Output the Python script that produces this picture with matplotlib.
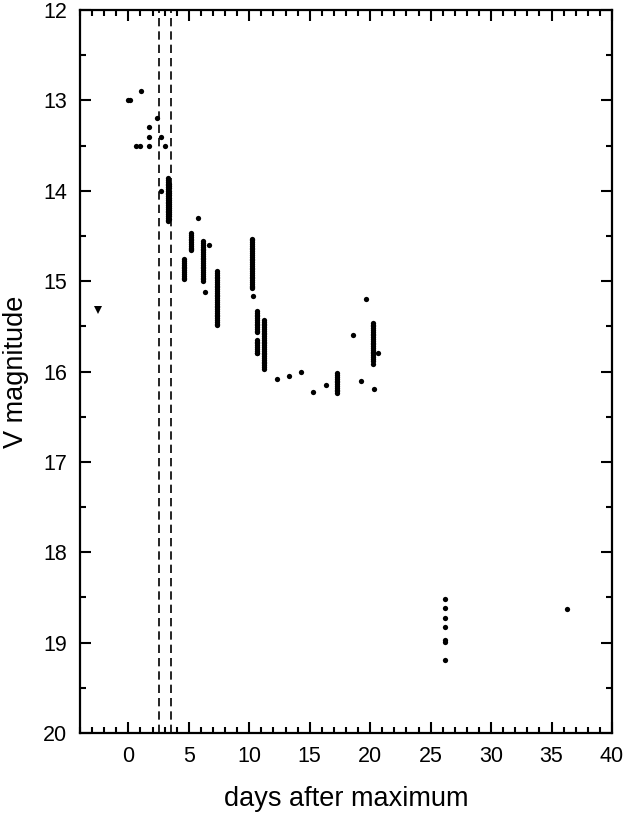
import numpy as np
import matplotlib
matplotlib.use("Agg")
import matplotlib.pyplot as plt
from matplotlib.ticker import MultipleLocator

plt.rcParams['font.family'] = ['Liberation Sans Narrow', 'Liberation Sans', 'DejaVu Sans']

# single observations (days after maximum, V magnitude)
single_days = [0.0, 0.1, 1.07, 2.4, 1.68, 1.73, 2.72, 0.65, 0.93, 1.67, 3.0,
               2.66, 5.75, 6.7, 6.3, 10.27, 12.33, 13.27, 14.3, 15.28, 16.33,
               18.6, 19.64, 19.28, 20.65, 20.27, 20.3, 36.27]
single_mags = [13.0, 13.0, 12.9, 13.19, 13.3, 13.4, 13.4, 13.5, 13.5, 13.5, 13.5,
               14.0, 14.3, 14.6, 15.12, 15.16, 16.08, 16.05, 16.01, 16.23, 16.15,
               15.6, 15.2, 16.11, 15.8, 15.92, 16.19, 18.63]

# dense nightly runs: one day value per run, magnitudes listed
run_days = [3.28, 3.38, 4.6, 5.2, 6.2, 7.3, 10.22, 10.65, 10.65, 11.25, 17.22, 20.25, 26.2]
run_mags = [
    [13.86, 13.88, 13.90, 13.92, 13.94, 13.96, 13.98, 14.00, 14.02, 14.04, 14.06,
     14.08, 14.10, 14.12, 14.14, 14.16, 14.18, 14.20, 14.22, 14.24, 14.26, 14.28,
     14.30, 14.32, 14.34],
    [13.92, 13.95, 13.97, 14.00, 14.03, 14.05, 14.08, 14.10, 14.12, 14.15, 14.17,
     14.19, 14.21, 14.24, 14.26, 14.28, 14.31],
    [14.76, 14.78, 14.80, 14.82, 14.84, 14.86, 14.88, 14.90, 14.92, 14.94, 14.96, 14.98],
    [14.47, 14.49, 14.51, 14.53, 14.55, 14.57, 14.59, 14.61, 14.63, 14.65, 14.66],
    [14.56, 14.58, 14.60, 14.62, 14.64, 14.66, 14.68, 14.70, 14.72, 14.74, 14.76,
     14.78, 14.80, 14.82, 14.84, 14.86, 14.88, 14.90, 14.92, 14.94, 14.96, 14.98, 15.00],
    [14.89, 14.91, 14.93, 14.95, 14.97, 14.99, 15.01, 15.03, 15.05, 15.07, 15.09,
     15.11, 15.13, 15.15, 15.17, 15.19, 15.21, 15.23, 15.25, 15.27, 15.29, 15.31,
     15.33, 15.35, 15.37, 15.39, 15.41, 15.43, 15.45, 15.47, 15.48],
    [14.53, 14.55, 14.57, 14.59, 14.61, 14.63, 14.65, 14.67, 14.69, 14.71, 14.73,
     14.75, 14.77, 14.79, 14.81, 14.83, 14.85, 14.87, 14.89, 14.91, 14.93, 14.95,
     14.97, 14.99, 15.01, 15.03, 15.05, 15.07, 15.08],
    [15.33, 15.35, 15.37, 15.39, 15.41, 15.43, 15.45, 15.47, 15.49, 15.51, 15.53,
     15.55, 15.56],
    [15.65, 15.67, 15.69, 15.71, 15.73, 15.75, 15.77, 15.79, 15.80],
    [15.43, 15.45, 15.47, 15.49, 15.51, 15.53, 15.55, 15.57, 15.59, 15.61, 15.63,
     15.65, 15.67, 15.69, 15.71, 15.73, 15.75, 15.77, 15.79, 15.81, 15.83, 15.85,
     15.87, 15.89, 15.91, 15.93, 15.95, 15.97],
    [16.02, 16.04, 16.06, 16.08, 16.10, 16.12, 16.14, 16.16, 16.18, 16.20, 16.22, 16.24],
    [15.46, 15.48, 15.50, 15.52, 15.54, 15.56, 15.58, 15.60, 15.62, 15.64, 15.66,
     15.68, 15.70, 15.72, 15.74, 15.76, 15.78, 15.80, 15.82, 15.84, 15.86, 15.88],
    [18.52, 18.62, 18.73, 18.83, 18.97, 18.99, 19.19],
]

# upper limit
limit_day = -2.5
limit_mag = 15.32

# dashed markers
vlines = [2.5, 3.5]

fig = plt.figure(figsize=(6.23, 8.13), dpi=100)
ax = fig.add_axes([80/623, 1-733/813, 532/623, 723/813])

ax.plot(single_days, single_mags, 'o', color='black', markersize=3.8, markeredgewidth=0)
for d, ms in zip(run_days, run_mags):
    ax.plot([d]*len(ms), ms, 'o', color='black', markersize=3.8, markeredgewidth=0)
ax.plot([limit_day], [limit_mag], 'v', color='black', markersize=5.5, markeredgewidth=0)

for v in vlines:
    ax.axvline(v, color='black', linestyle=(0, (5, 3)), linewidth=1.2)

ax.set_xlim(-4, 40)
ax.set_ylim(20, 12)
ax.xaxis.set_major_locator(MultipleLocator(5))
ax.xaxis.set_minor_locator(MultipleLocator(1))
ax.yaxis.set_major_locator(MultipleLocator(1))
ax.yaxis.set_minor_locator(MultipleLocator(0.5))
ax.tick_params(which='both', direction='in', top=True, right=True, width=1.5)
ax.tick_params(which='major', length=8, labelsize=15.5, pad=9)
ax.tick_params(which='minor', length=4.5)
for s in ax.spines.values():
    s.set_linewidth(1.6)

ax.set_xlabel('days after maximum', fontsize=19.5, labelpad=14)
ax.set_ylabel('V magnitude', fontsize=19.5, labelpad=10)

fig.savefig('out.png', dpi=100)
